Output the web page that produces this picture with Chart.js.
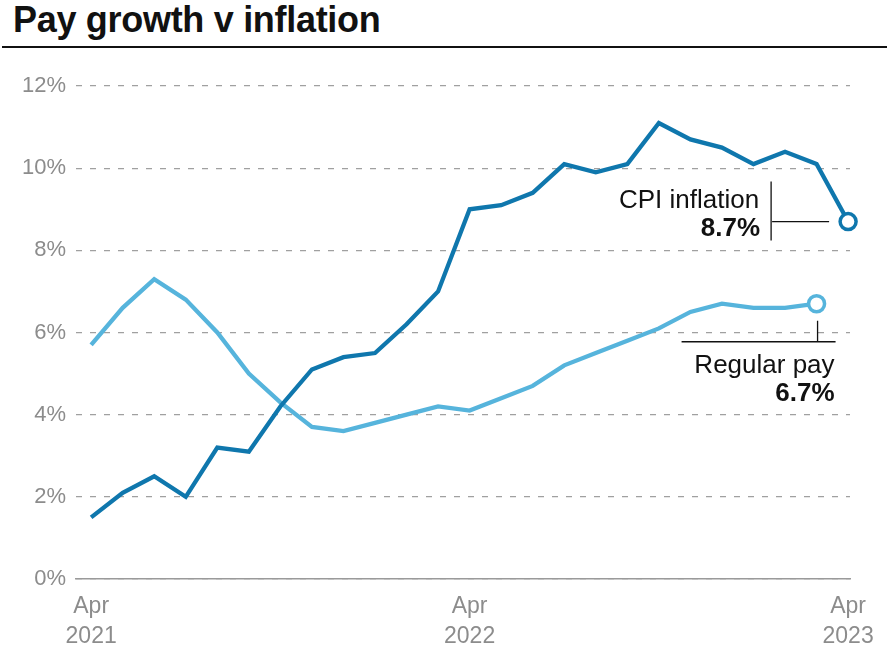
<!DOCTYPE html>
<html>
<head>
<meta charset="utf-8">
<script src="https://cdn.jsdelivr.net/npm/chart.js@4"></script>
<style>
    body { margin: 0; background: #fff; width: 887px; height: 658px; overflow: hidden; position: relative; font-family: "Liberation Sans", Arial, sans-serif; }
    #title { position: absolute; left: 13px; top: 2px; font-size: 36px; line-height: 36px; font-weight: bold; color: #111; letter-spacing: -0.3px; }
    #rule { position: absolute; left: 2px; top: 46px; width: 885px; height: 2px; background: #111; }
    #wrap { position: absolute; left: 0; top: 50px; width: 887px; height: 608px; }
</style>
</head>
<body>
<div id="title">Pay growth v inflation</div>
<div id="rule"></div>
<div id="wrap"><canvas id="chart"></canvas></div>
<script>
// Months from Apr 2021 (index 0) to Apr 2023 (index 24)
const months = ['Apr 2021', 'May', 'Jun', 'Jul', 'Aug', 'Sep', 'Oct', 'Nov', 'Dec',
    'Jan 2022', 'Feb', 'Mar', 'Apr 2022', 'May', 'Jun', 'Jul', 'Aug', 'Sep', 'Oct', 'Nov', 'Dec',
    'Jan 2023', 'Feb', 'Mar', 'Apr 2023'];

const cpiInflation = [1.5, 2.1, 2.5, 2.0, 3.2, 3.1, 4.2, 5.1, 5.4, 5.5, 6.2, 7.0,
    9.0, 9.1, 9.4, 10.1, 9.9, 10.1, 11.1, 10.7, 10.5, 10.1, 10.4, 10.1, 8.7];

const regularPay = [5.7, 6.6, 7.3, 6.8, 6.0, 5.0, 4.3, 3.7, 3.6, 3.8, 4.0, 4.2,
    4.1, 4.4, 4.7, 5.2, 5.5, 5.8, 6.1, 6.5, 6.7, 6.6, 6.6, 6.7];

const xTicks = [0, 12, 24];
const xTickLabels = { 0: ['Apr', '2021'], 12: ['Apr', '2022'], 24: ['Apr', '2023'] };
const yTicks = [0, 2, 4, 6, 8, 10, 12];

const CPI_COLOR = '#0f77ad';
const PAY_COLOR = '#56b4dc';
const GREY = '#8c8c8c';
const FONT = '"Liberation Sans", Arial, sans-serif';

function toPoints(values) {
    return values.map((v, i) => ({ x: i, y: v }));
}

function lastOnly(values, r) {
    return ctx => ctx.dataIndex === values.length - 1 ? r : 0;
}

// Labels and leader lines next to the last points
const endLabels = {
    id: 'endLabels',
    afterDatasetsDraw(chart) {
        const ctx = chart.ctx;
        const cpiPt = chart.getDatasetMeta(0).data[cpiInflation.length - 1];
        const payPt = chart.getDatasetMeta(1).data[regularPay.length - 1];

        ctx.save();
        ctx.strokeStyle = '#111';
        ctx.lineWidth = 1.3;
        ctx.fillStyle = '#111';
        ctx.textAlign = 'right';
        ctx.textBaseline = 'alphabetic';

        // CPI inflation
        let px = cpiPt.x, py = cpiPt.y;
        ctx.beginPath();
        ctx.moveTo(px - 77, py - 40);
        ctx.lineTo(px - 77, py + 19);
        ctx.moveTo(px - 76, py);
        ctx.lineTo(px - 19, py);
        ctx.stroke();
        ctx.font = '26px ' + FONT;
        ctx.fillText('CPI inflation', px - 89, py - 14);
        ctx.font = 'bold 26px ' + FONT;
        ctx.fillText(cpiInflation[cpiInflation.length - 1].toFixed(1) + '%', px - 88, py + 14);

        // Regular pay
        px = payPt.x; py = payPt.y;
        ctx.beginPath();
        ctx.moveTo(px + 1, py + 17);
        ctx.lineTo(px + 1, py + 38);
        ctx.moveTo(px - 135, py + 38);
        ctx.lineTo(px + 19, py + 38);
        ctx.stroke();
        ctx.font = '26px ' + FONT;
        ctx.fillText('Regular pay', px + 18, py + 69);
        ctx.font = 'bold 26px ' + FONT;
        ctx.fillText(regularPay[regularPay.length - 1].toFixed(1) + '%', px + 18, py + 97);
        ctx.restore();
    }
};

new Chart(document.getElementById('chart'), {
    type: 'line',
    data: {
        datasets: [
            {
                label: 'CPI inflation',
                data: toPoints(cpiInflation),
                borderColor: CPI_COLOR,
                borderWidth: 4.3,
                borderJoinStyle: 'miter',
                tension: 0,
                pointRadius: lastOnly(cpiInflation, 8),
                pointHoverRadius: lastOnly(cpiInflation, 8),
                pointBackgroundColor: '#fff',
                pointBorderColor: CPI_COLOR,
                pointBorderWidth: 3.5,
                clip: false
            },
            {
                label: 'Regular pay',
                data: toPoints(regularPay),
                borderColor: PAY_COLOR,
                borderWidth: 4.3,
                borderJoinStyle: 'miter',
                tension: 0,
                pointRadius: lastOnly(regularPay, 8),
                pointHoverRadius: lastOnly(regularPay, 8),
                pointBackgroundColor: '#fff',
                pointBorderColor: PAY_COLOR,
                pointBorderWidth: 3.5,
                clip: false
            }
        ]
    },
    options: {
        responsive: true,
        maintainAspectRatio: false,
        animation: false,
        layout: { padding: { left: 0, right: 37, top: 36, bottom: 0 } },
        plugins: {
            legend: { display: false },
            tooltip: { enabled: false }
        },
        scales: {
            x: {
                type: 'linear',
                min: -0.48,
                max: 24.06,
                afterBuildTicks: scale => { scale.ticks = xTicks.map(v => ({ value: v })); },
                afterFit: scale => { scale.height = 79; },
                grid: { display: false, drawTicks: false },
                border: { display: true, color: '#9a9a9a', width: 1.5 },
                ticks: {
                    autoSkip: false,
                    maxRotation: 0,
                    padding: 13,
                    color: GREY,
                    font: { family: FONT, size: 23, lineHeight: 1.3 },
                    callback: v => xTickLabels[v] || ''
                }
            },
            y: {
                min: 0,
                max: 12,
                afterBuildTicks: scale => { scale.ticks = yTicks.map(v => ({ value: v })); },
                afterFit: scale => { scale.width = 76; },
                grid: { color: '#a0a0a0', lineWidth: 1.2, drawTicks: false },
                border: { display: false, dash: [6, 8] },
                ticks: {
                    padding: 10,
                    color: GREY,
                    font: { family: FONT, size: 22 },
                    callback: v => v + '%'
                }
            }
        }
    },
    plugins: [endLabels]
});
</script>
</body>
</html>
